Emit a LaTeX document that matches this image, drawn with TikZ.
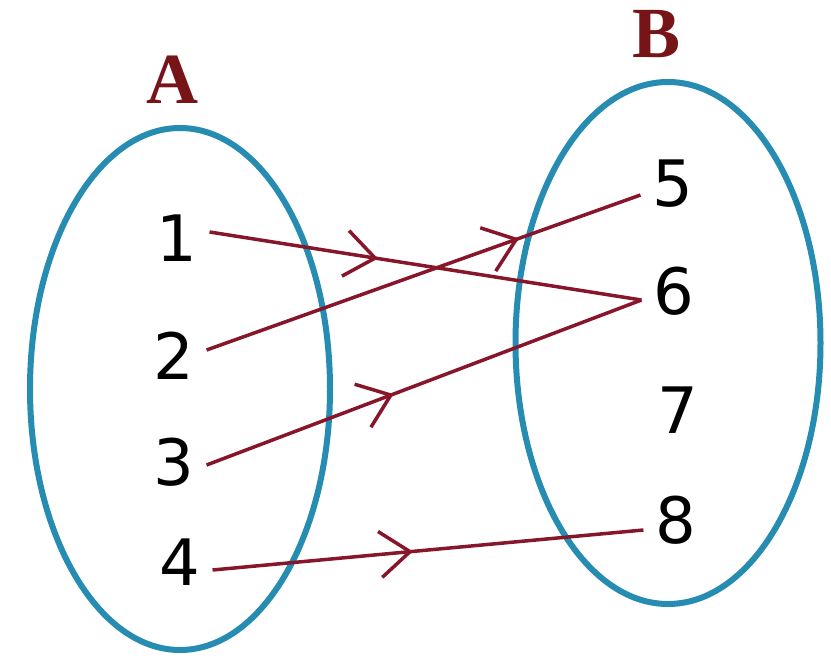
\documentclass[tikz,border=0pt]{standalone}
\usepackage{fontspec}
\setmainfont{DejaVu Sans}
\newfontfamily\lblfont{Liberation Serif}
\usetikzlibrary{decorations.markings,arrows.meta,shapes.geometric}
\definecolor{ellc}{RGB}{38,140,178}
\definecolor{arrc}{RGB}{135,22,42}
\definecolor{lblc}{RGB}{118,20,24}
\begin{document}
\begin{tikzpicture}[x=1pt,y=-1pt,
  setell/.style={draw=ellc, line width=6pt, ellipse, inner sep=0pt},
  num/.style={font=\fontsize{64}{64}\selectfont, text=black, inner ysep=0pt, inner xsep=12pt},
  setlbl/.style={font=\lblfont\bfseries\fontsize{72}{72}\selectfont, text=lblc, inner sep=0pt},
  mapline/.style={draw=arrc, line width=3.5pt, postaction=decorate,
    decoration={markings, mark=at position #1 with {\arrow{Straight Barb[length=30pt,width=46pt]}}}},
]
\useasboundingbox (0,0) rectangle (831,659);
\fill[white] (0,0) rectangle (831,659);

\node[setell, minimum width=300pt, minimum height=522pt] (setA) at (180,389) {};
\node[setell, minimum width=305pt, minimum height=522pt] (setB) at (668,343) {};

\node[setlbl] (lA) at (172,80) {A};
\node[setlbl] (lB) at (657,34) {B};

\node[num] (n1) at (177,238) {1};
\node[num] (n2) at (174,356) {2};
\node[num] (n3) at (174,462) {3};
\node[num] (n4) at (180,562) {4};
\node[num] (n5) at (673,184) {5};
\node[num] (n6) at (674,291) {6};
\node[num] (n7) at (678,410) {7};
\node[num] (n8) at (676,520) {8};

\draw[mapline=0.39] ([yshift=6pt]n1.east) -- ([yshift=-9pt]n6.west);
\draw[mapline=0.72] ([yshift=6pt]n2.east) -- ([yshift=-11pt]n5.west);
\draw[mapline=0.43] ([yshift=-3pt]n3.east) -- ([yshift=-9pt]n6.west);
\draw[mapline=0.465] ([yshift=-8pt]n4.east) -- ([yshift=-10pt]n8.west);
\end{tikzpicture}
\end{document}
